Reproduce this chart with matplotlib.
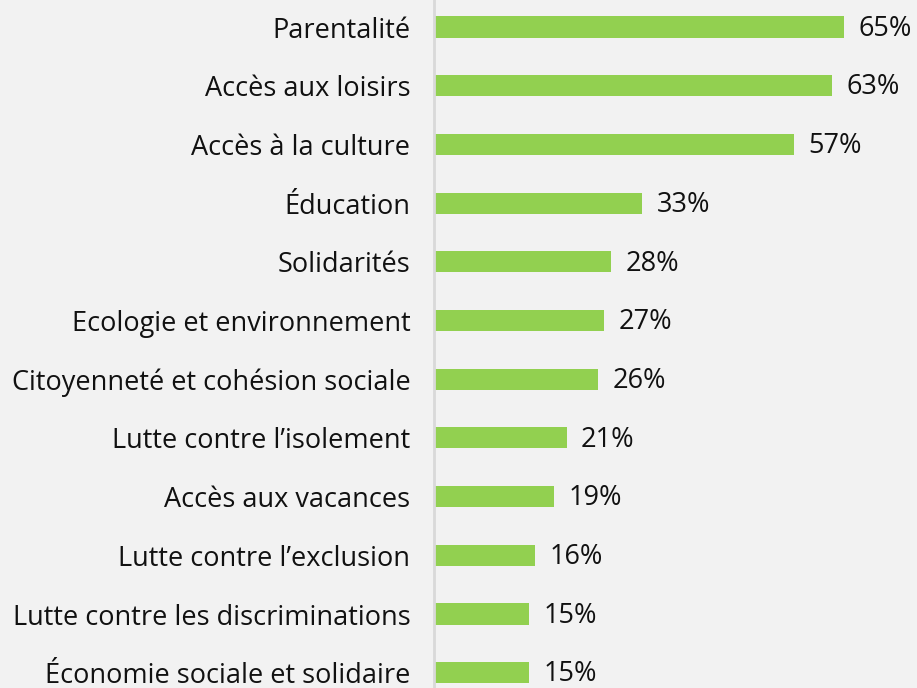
import matplotlib
matplotlib.use('Agg')
import matplotlib.pyplot as plt

categories = [
    "Parentalité",
    "Accès aux loisirs",
    "Accès à la culture",
    "Éducation",
    "Solidarités",
    "Ecologie et environnement",
    "Citoyenneté et cohésion sociale",
    "Lutte contre l’isolement",
    "Accès aux vacances",
    "Lutte contre l’exclusion",
    "Lutte contre les discriminations",
    "Économie sociale et solidaire",
]
values = [65, 63, 57, 33, 28, 27, 26, 21, 19, 16, 15, 15]

plt.rcParams['font.family'] = ['Open Sans', 'DejaVu Sans']

bg = '#F2F2F2'
fig = plt.figure(figsize=(9.17, 6.88), dpi=100, facecolor=bg)
ax = fig.add_axes([434 / 917, 0, 1 - 434 / 917, 1], facecolor=bg)

y = list(range(len(categories)))
ax.barh(y, values, height=0.36, color='#92D050')

# percentage labels to the right of each bar
for yi, v in zip(y, values):
    ax.text(v + 2.3, yi + 0.03, f"{v}%", va='center', ha='left', fontsize=19.5, color='#111111')

ax.set_xlim(0, 76.5)
ax.set_ylim(11.26, -0.46)
ax.set_yticks(y)
ax.set_yticklabels(categories, fontsize=19.5, color='#111111')
ax.tick_params(axis='y', length=0, pad=17)
ax.set_xticks([])

for s in ['top', 'right', 'bottom']:
    ax.spines[s].set_visible(False)
ax.spines['left'].set_color('#D9D9D9')
ax.spines['left'].set_linewidth(2)

plt.savefig('out.png', dpi=100, facecolor=bg)
